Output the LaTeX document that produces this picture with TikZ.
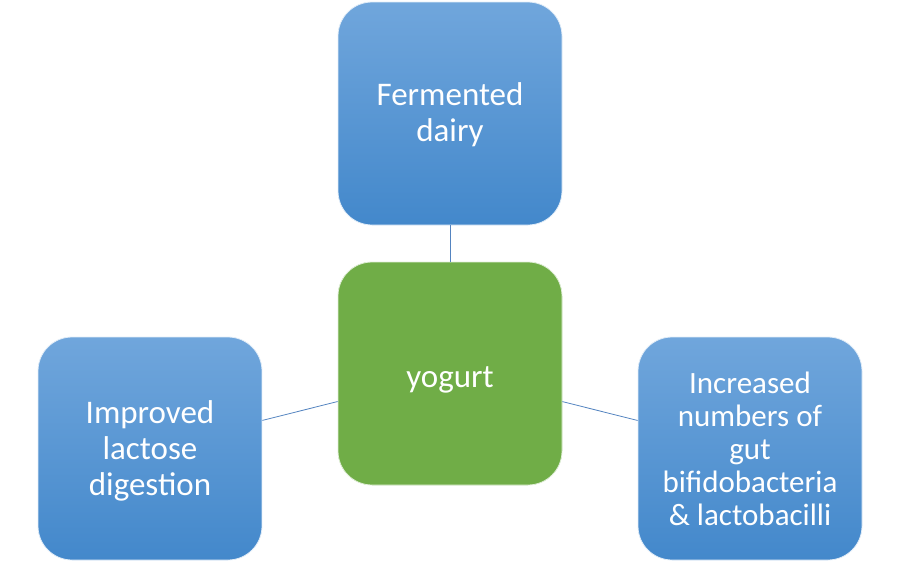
\documentclass[tikz,border=0pt]{standalone}
\usepackage{fontspec}
\setmainfont{Carlito}
\usepackage{tikz}
\usetikzlibrary{positioning,shadings}
\definecolor{boxtop}{RGB}{112,166,220}
\definecolor{boxbottom}{RGB}{67,136,203}
\definecolor{yogurtgreen}{RGB}{112,173,71}
\definecolor{linkblue}{RGB}{84,132,192}
% text set a little low in its box, as in the slide
\newcommand{\lowtext}[2]{\raisebox{-#1}[\height][\depth]{\begin{tabular}{@{}c@{}}#2\end{tabular}}}
\tikzset{
    leafbox/.style={rounded corners=34pt, top color=boxtop, bottom color=boxbottom, draw=white!80!boxtop, line width=0.8pt, minimum width=224pt, minimum height=223pt, text=white, align=center, font=\fontsize{33}{36}\selectfont},
    hubbox/.style={leafbox, fill=yogurtgreen, top color=yogurtgreen, bottom color=yogurtgreen, draw=white!80!yogurtgreen},
    link/.style={draw=linkblue, line width=0.8pt}
}

\begin{document}
\begin{tikzpicture}[x=1pt, y=-1pt]
    \useasboundingbox (0,0) rectangle (900,562);
    \node[hubbox] (yogurt) at (450,373.5) {\lowtext{7pt}{yogurt}};
    \node[leafbox] (dairy) at (450,113.5) {\lowtext{3pt}{Fermented\\dairy}};
    \node[leafbox] (lactose) at (150,448.5) {\lowtext{4pt}{Improved\\lactose\\digestion}};
    \node[leafbox, font=\fontsize{31}{33}\selectfont] (bacteria) at (750,448.5) {Increased\\numbers of\\gut\\bifidobacteria\\\& lactobacilli};
    % spokes from the hub
    \draw[link] (dairy) -- (yogurt);
    \draw[link] (lactose) -- (yogurt);
    \draw[link] (yogurt) -- (bacteria);
\end{tikzpicture}
\end{document}
